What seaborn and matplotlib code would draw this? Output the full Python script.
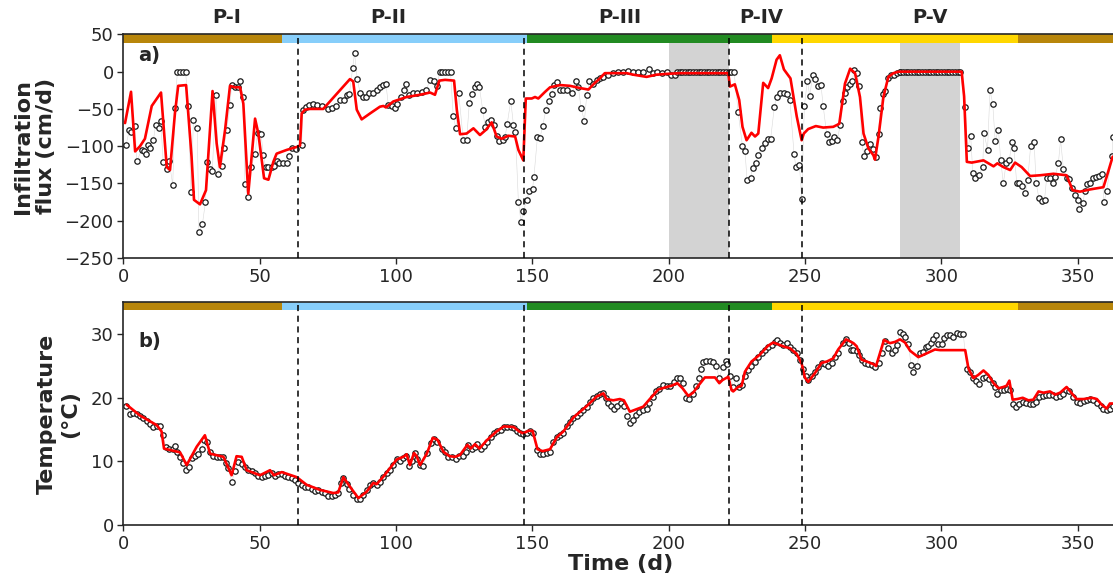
import numpy as np
import pandas as pd
import matplotlib
matplotlib.use("Agg")
import matplotlib.pyplot as plt
import seaborn as sns

# ---------------- data ----------------
# Panel a) observed infiltration flux (day, cm/d)
flux_obs_day = [1.0, 2.2, 2.8, 4.3, 4.9, 6.7, 7.5, 8.2, 9.1, 9.8, 11.0, 11.8, 13.1, 13.7, 14.6, 16.1, 16.8, 18.1, 18.9,
                19.8, 20.8, 21.8, 22.8, 23.8, 24.8, 25.7, 27.1, 27.7, 29.0, 30.1, 30.8, 31.8, 32.6, 34.0, 34.8, 36.0,
                36.9, 37.9, 39.1, 39.7, 40.9, 42.2, 42.8, 44.0, 44.6, 45.8, 46.8, 48.3, 49.2, 50.5, 51.3, 52.2, 53.2,
                54.4, 55.2, 56.2, 57.2, 58.7, 59.9, 60.9, 62.0, 63.3, 65.4, 65.8, 67.0, 68.2, 69.4, 70.9, 72.7, 75.2,
                76.6, 78.0, 79.5, 80.9, 82.1, 82.9, 84.1, 84.8, 85.8, 86.8, 87.8, 89.0, 90.2, 91.7, 92.9, 94.1, 95.4,
                96.3, 97.2, 98.4, 99.6, 100.5, 101.7, 103.0, 103.7, 104.9, 106.4, 107.8, 109.4, 111.0, 112.5, 114.0,
                115.2, 116.0, 117.0, 118.0, 119.0, 120.0, 121.0, 122.0, 123.0, 124.7, 125.9, 126.9, 127.9, 129.0,
                129.8, 130.6, 131.8, 132.7, 133.6, 134.9, 136.1, 136.9, 137.9, 139.1, 140.0, 140.8, 142.1, 143.1,
                143.8, 144.9, 145.9, 146.7, 148.0, 148.9, 150.1, 150.6, 151.9, 152.8, 153.8, 155.0, 156.0, 157.1,
                158.1, 159.0, 160.0, 161.4, 162.9, 164.7, 166.0, 166.9, 167.9, 169.1, 170.0, 170.9, 172.1, 173.6,
                174.8, 176.0, 177.9, 179.7, 181.5, 183.4, 185.2, 187.0, 188.9, 190.7, 192.9, 194.4, 195.8, 197.4,
                199.3, 200.7, 202.3, 203.2, 204, 205, 206, 207, 208, 209, 210, 211, 212, 213, 214, 215, 216, 217,
                218, 219, 220, 221, 222, 223, 224, 225.5, 227.1, 228.0, 228.8, 230.1, 230.8, 231.9, 232.9, 234.1,
                235.3, 236.3, 237.4, 238.8, 239.6, 240.8, 242.3, 243.5, 244.5, 246.0, 246.7, 248.0, 248.8, 249.8,
                250.9, 251.8, 252.8, 253.7, 254.9, 255.9, 256.7, 258.0, 258.7, 259.8, 260.8, 261.9, 262.9, 263.9,
                264.7, 265.6, 266.6, 267.4, 268.0, 269.0, 270.0, 270.8, 271.7, 272.7, 273.9, 275.1, 276.1, 277.0,
                277.6, 278.6, 279.4, 280.6, 281.5, 282.7, 283.7, 284.7, 285, 286, 287, 288, 289, 290, 291, 292, 293,
                294, 295, 296, 297, 298, 299, 300, 301, 302, 303, 304, 305, 306, 307, 308.8, 309.7, 310.8, 311.6,
                312.4, 313.9, 315.2, 315.7, 317.0, 317.9, 318.9, 319.8, 321.0, 321.8, 322.8, 323.8, 325.0, 325.9,
                326.7, 327.7, 328.7, 329.8, 330.9, 331.7, 332.8, 334.1, 334.8, 335.8, 336.9, 337.9, 338.7, 339.9,
                340.9, 341.8, 343.0, 343.8, 344.8, 346.0, 347.0, 348.0, 348.9, 350.0, 350.7, 351.9, 352.8, 353.6,
                354.6, 355.6, 356.8, 358.0, 359.0, 359.7, 360.7, 362.6, 363.0]
flux_obs_val = [-98, -78, -81, -73, -120, -105, -106, -110, -98, -103, -92, -72, -75, -66, -121, -130, -120, -152, -49,
                0, 0, 0, 0, -46, -162, -65, -75, -215, -204, -175, -121, -130, -133, -31, -137, -127,
                -102, -78, -45, -18, -20, -20, -13, -34, -151, -168, -128, -110, -82, -83, -112, -128, -128,
                -128, -127, -120, -122, -122, -123, -113, -103, -104, -98, -52, -48, -45, -43, -45, -46, -50,
                -49, -46, -38, -38, -31, -30, 5, 25, -10, -28, -34, -34, -29, -29, -25, -21, -18,
                -16, -45, -46, -49, -43, -34, -24, -16, -31, -29, -28, -27, -25, -11, -12,
                -19, 0, 0, 0, 0, 0, -60, -76, -29, -92, -92, -42, -30, -20,
                -16, -21, -51, -74, -67, -65, -72, -86, -93, -92, -88, -70, -39, -72,
                -81, -175, -202, -187, -172, -160, -157, -141, -87, -89, -73, -51, -40, -30,
                -18, -14, -25, -25, -24, -28, -12, -21, -49, -66, -31, -13, -16, -11,
                -9, -7, -4, -2, -1, -1, 1, -1, -1, 0, 3, -2, 0, -2,
                -1, -4, -4, -1, 0, 0, 0, 0, 0, 0, 0, 0, 0, 0, 0, 0, 0, 0,
                0, 0, 0, 0, 0, 0, 0, -54, -100, -106, -146, -142, -129, -123, -112, -102,
                -96, -90, -91, -47, -34, -28, -28, -30, -38, -110, -128, -125, -171, -46,
                -12, -33, -4, -10, -19, -18, -46, -84, -95, -93, -88, -92, -72, -40,
                -29, -20, -16, -12, 2, -2, -19, -95, -113, -107, -97, -104, -114, -83,
                -49, -30, -26, -8, -4, -4, -2, -1, 0, 0, 0, 0, 0, 0, 0, 0, 0,
                0, 0, 0, 0, 0, 0, 0, 0, 0, 0, 0, 0, 0, 0, -48, -103, -86, -136,
                -143, -138, -128, -82, -105, -25, -43, -93, -78, -118, -150, -123, -118, -95,
                -103, -150, -150, -153, -163, -146, -100, -95, -149, -169, -173, -172, -142, -142,
                -150, -141, -122, -91, -130, -142, -144, -156, -166, -172, -184, -176, -160, -151,
                -149, -142, -141, -140, -137, -175, -160, -113, -88]

# Panel a) simulated infiltration flux
flux_sim_day = [0.6, 2.8, 4.3, 6.1, 7.9, 10.4, 13.8, 15.9, 17.1, 18.9, 20.1, 23.0, 25.0, 25.9, 28.1, 30.3, 32.7, 34.2,
                35.4, 37.3, 39.1, 40.9, 42.8, 44.0, 45.8, 48.3, 49.5, 51.6, 53.2, 55.0, 56.2, 59.9, 63.6, 64.8, 65.4,
                66.6, 68.5, 73.3, 83.1, 84.3, 85.6, 87.4, 90.5, 94.1, 95.4, 96.3, 99.0, 103.9, 108.8, 112.5, 114.3,
                115.9, 118.0, 121.3, 122.3, 123.5, 125.9, 128.4, 130.8, 133.0, 135.1, 136.9, 138.8, 141.2, 143.7,
                144.9, 146.7, 147.6, 149.8, 151.0, 152.2, 154.7, 156.5, 160.2, 163.8, 167.5, 170.6, 172.4, 174.8,
                176.6, 179.7, 184.6, 187.0, 191.9, 195.6, 199.3, 204.1, 221.9, 222.5, 224.3, 225.9, 227.1, 228.6,
                230.4, 231.7, 232.9, 234.7, 236.5, 237.8, 239.6, 240.8, 242.3, 244.7, 247.0, 248.8, 249.6, 251.2,
                254.0, 256.7, 260.4, 262.6, 264.7, 266.6, 268.4, 270.2, 271.5, 273.3, 275.1, 275.7, 277.0, 278.8,
                280.6, 282.5, 284.3, 307.5, 308.4, 309.4, 311.2, 315.5, 319.2, 320.6, 322.8, 325.3, 327.1, 329.5,
                332.6, 336.3, 341.2, 346.0, 348.2, 350.9, 354.6, 359.5, 360.7, 362.9]
flux_sim_val = [-69, -27, -107, -100, -90, -46, -28, -128, -132, -56, -19, -18, -114, -172, -178, -159, -26, -96,
                -128, -78, -19, -21, -21, -43, -164, -63, -83, -143, -145, -121, -110, -105, -101, -99, -56,
                -51, -50, -50, -10, -13, -51, -64, -56, -47, -46, -48, -40, -34, -31, -28, -31,
                -12, -11, -12, -51, -84, -83, -76, -85, -78, -68, -87, -90, -86, -87,
                -105, -119, -36, -36, -34, -36, -27, -21, -18, -19, -22, -24, -17, -9,
                -2, -2, -2, -4, -7, -4, -3, -2, -2, -20, -17, -38, -74, -92,
                -82, -87, -83, -15, -22, -9, 16, 22, 3, -9, -60, -92, -83, -77,
                -73, -75, -74, -70, -16, 4, -2, -34, -83, -103, -112, -118, -87, -34,
                -7, -2, 0, 0, -33, -121, -122, -119, -127, -123, -128, -132, -122, -128,
                -140, -139, -137, -139, -159, -161, -158, -155, -141, -114]

# Panel b) observed temperature (day, degC)
temp_obs_day = [1.0, 2.4, 3.6, 4.9, 6.1, 7.3, 8.5, 9.8, 11.0, 12.2, 13.4, 14.4, 15.6, 16.9, 18.1, 18.9, 19.8, 20.8,
                22.0, 22.8, 24.1, 25.0, 26.3, 27.5, 28.7, 29.6, 30.8, 31.8, 33.0, 34.2, 35.4, 36.7, 37.6, 38.5, 39.7,
                41.0, 42.2, 43.4, 44.6, 45.8, 47.1, 48.3, 49.5, 50.7, 51.9, 53.2, 54.4, 55.6, 56.8, 58.1, 59.3, 60.5,
                61.7, 62.9, 64.2, 65.4, 66.6, 67.8, 69.1, 70.3, 71.5, 72.7, 74.0, 75.2, 76.4, 77.6, 78.8, 79.7, 80.7,
                81.9, 82.9, 84.1, 85.6, 86.8, 88.0, 89.2, 90.5, 91.7, 92.9, 94.1, 95.4, 96.6, 97.8, 99.0, 100.3,
                101.5, 102.7, 103.7, 104.9, 106.0, 107.0, 107.8, 108.8, 110.0, 111.3, 112.7, 113.9, 115.2, 116.8,
                118.0, 119.2, 120.4, 122.0, 123.2, 124.5, 125.7, 126.5, 127.8, 129.0, 129.8, 131.1, 132.3, 133.5,
                134.7, 136.0, 137.2, 138.4, 139.6, 140.8, 142.1, 143.3, 144.5, 145.5, 146.7, 147.9, 149.2, 150.4,
                151.6, 152.8, 154.0, 155.3, 156.5, 157.7, 159.0, 160.2, 161.4, 162.6, 163.8, 165.1, 166.3, 167.5,
                168.7, 170.0, 171.2, 172.4, 173.6, 174.8, 176.0, 177.0, 177.9, 178.7, 179.9, 181.2, 182.4, 183.6,
                184.8, 185.8, 186.8, 188.0, 189.2, 190.7, 191.9, 192.9, 194.1, 195.3, 196.6, 197.8, 199.3, 200.5,
                202.0, 203.2, 204.1, 205.1, 206.3, 207.6, 208.8, 210.0, 211.0, 211.7, 212.7, 213.9, 215.2, 216.4,
                217.4, 218.6, 219.8, 221.0, 221.3, 222.7, 223.7, 224.9, 225.9, 227.1, 228.0, 229.2, 230.4, 231.7,
                232.9, 234.1, 235.3, 236.5, 237.8, 239.0, 239.9, 240.8, 242.0, 243.3, 244.5, 245.7, 247.0, 248.2,
                249.4, 250.4, 251.2, 252.5, 253.7, 254.9, 256.1, 257.3, 258.6, 259.8, 261.0, 262.2, 264.1, 265.1,
                266.0, 266.8, 267.8, 269.0, 270.0, 270.8, 272.1, 273.3, 274.5, 275.7, 277.0, 278.2, 279.4, 280.6,
                281.9, 283.1, 283.9, 284.7, 285.9, 286.7, 288.0, 288.9, 289.8, 291.0, 292.2, 293.5, 294.4, 295.3,
                296.2, 297.1, 298.1, 299.0, 300.2, 301.1, 302.0, 303.3, 304.5, 305.7, 306.9, 308.1, 309.4, 310.6,
                311.6, 312.8, 314.0, 315.2, 316.5, 317.7, 318.9, 319.8, 320.6, 321.8, 323.0, 324.3, 325.3, 326.2,
                327.5, 328.7, 329.9, 331.1, 332.4, 333.6, 334.8, 336.0, 337.2, 338.5, 339.7, 340.9, 342.1, 343.4,
                344.6, 345.8, 347.0, 348.3, 349.7, 350.9, 352.2, 353.4, 354.6, 355.8, 357.3, 358.5, 359.5, 360.7,
                361.9, 362.9]
temp_obs_val = [18.7, 17.5, 17.6, 17.5, 17.1, 16.8, 16.4, 15.9, 15.4, 15.6, 15.6, 14.1, 12.3, 11.9, 11.9, 12.4, 11.4, 10.7,
                9.7, 8.6, 9.1, 10.5, 10.8, 11.2, 12.0, 13.4, 13.1, 11.5, 10.8, 10.7, 10.7, 10.6, 9.7, 8.9, 6.8,
                8.4, 9.9, 9.6, 9.1, 8.6, 8.4, 8.1, 7.7, 7.6, 7.7, 7.8, 8.1, 7.7, 8.0, 8.0, 7.7, 7.5,
                7.3, 7.1, 6.6, 6.3, 6.0, 6.0, 5.6, 5.4, 5.5, 5.2, 5.0, 4.5, 4.5, 4.7, 5.0, 6.6, 7.3,
                6.5, 5.6, 4.7, 4.0, 4.0, 4.7, 5.5, 6.3, 6.6, 6.3, 6.8, 7.5, 8.1, 8.6, 9.4, 10.3,
                10.1, 10.5, 10.8, 9.2, 10.1, 11.3, 10.3, 9.4, 9.2, 11.3, 12.9, 13.5, 13.1, 12.0,
                11.5, 10.7, 10.6, 10.3, 10.8, 10.8, 11.5, 12.6, 12.0, 12.3, 12.7, 12.0, 12.4, 13.1,
                13.8, 14.4, 14.7, 15.0, 15.4, 15.4, 15.4, 15.2, 14.8, 14.4, 14.3, 14.5, 14.8, 14.5,
                11.8, 11.2, 11.2, 11.3, 11.5, 13.1, 13.9, 14.2, 14.5, 15.6, 16.2, 16.8, 17.1, 17.6,
                18.1, 18.6, 19.4, 19.9, 20.3, 20.6, 20.7, 19.9, 19.2, 18.7, 18.2, 18.7, 19.1, 18.7,
                17.1, 16.1, 16.5, 17.3, 17.7, 18.0, 18.3, 19.2, 20.2, 21.0, 21.4, 22.0, 21.8, 21.8,
                22.5, 23.1, 23.1, 22.3, 19.9, 19.8, 20.6, 21.9, 23.1, 24.6, 25.7, 25.8, 25.8, 25.7,
                25.0, 23.1, 24.8, 25.8, 25.3, 23.4, 21.7, 23.1, 21.7, 22.0, 23.4, 24.4, 25.0, 25.7,
                26.4, 27.0, 27.5, 28.0, 28.3, 28.8, 29.1, 28.7, 28.3, 28.6, 28.0, 27.5, 27.1, 26.0,
                24.6, 23.4, 22.8, 23.4, 24.1, 24.9, 25.4, 25.3, 25.0, 25.5, 26.4, 27.0, 28.7, 29.2,
                28.7, 27.6, 27.6, 27.4, 26.7, 25.9, 25.5, 25.3, 25.2, 24.8, 25.5, 27.0, 29.0, 27.8,
                27.1, 27.6, 28.3, 30.3, 30.1, 29.6, 28.5, 25.2, 24.0, 25.0, 27.1, 27.2, 28.0, 28.1,
                28.7, 29.2, 29.9, 28.5, 28.5, 29.4, 29.9, 29.9, 29.5, 30.2, 30.0, 30.0, 24.6, 24.0,
                23.1, 22.6, 22.2, 23.1, 23.3, 23.0, 22.3, 21.7, 20.6, 21.2, 21.3, 21.4, 21.2, 19.0,
                18.5, 19.0, 19.4, 19.2, 19.0, 19.0, 19.4, 20.2, 20.3, 20.5, 20.5, 20.5, 20.2, 20.3,
                20.6, 21.3, 21.0, 20.2, 19.4, 19.2, 19.5, 19.6, 19.8, 19.6, 19.2, 18.7, 18.2, 18.0,
                18.3, 18.7]

# Panel b) simulated temperature
temp_sim_day = [1.2, 6.1, 12.2, 14.0, 14.9, 20.8, 23.2, 26.9, 29.9, 31.8, 36.7, 39.7, 41.5, 43.4, 45.2, 50.1, 53.8,
                55.2, 58.1, 63.6, 67.2, 72.1, 77.0, 78.8, 80.7, 83.1, 86.2, 89.2, 91.7, 92.9, 95.4, 99.0, 100.3,
                102.7, 103.9, 105.1, 106.6, 107.6, 108.8, 111.3, 113.5, 115.2, 117.4, 119.6, 121.6, 123.5, 126.2,
                127.4, 129.0, 130.6, 133.3, 136.9, 139.6, 143.1, 145.2, 146.7, 148.5, 150.1, 151.9, 153.8, 156.5,
                159.0, 161.4, 165.1, 170.0, 173.6, 176.1, 177.2, 179.7, 182.1, 183.6, 185.8, 187.6, 190.7, 193.1,
                196.2, 199.3, 201.1, 203.2, 205.1, 207.2, 209.0, 210.9, 213.3, 217.0, 218.6, 219.8, 221.9, 223.1,
                223.7, 225.5, 226.8, 228.0, 230.4, 233.5, 236.5, 238.4, 240.8, 242.7, 244.5, 247.0, 248.8, 250.0,
                251.2, 253.7, 256.1, 258.0, 260.4, 262.2, 265.1, 267.8, 269.0, 270.0, 270.8, 272.7, 275.1, 276.1,
                277.6, 279.0, 281.2, 283.1, 284.9, 286.7, 288.6, 291.6, 294.7, 297.7, 299.6, 308.8, 310.0, 311.8,
                313.6, 315.5, 317.3, 319.2, 321.0, 322.8, 324.0, 325.0, 326.2, 327.9, 329.9, 332.0, 333.8, 335.7,
                337.5, 339.9, 341.8, 343.6, 346.0, 347.9, 349.7, 352.2, 355.2, 357.1, 358.9, 360.7, 361.9, 362.9]
temp_sim_val = [18.9, 17.2, 15.7, 14.7, 12.0, 11.4, 9.4, 12.3, 14.1, 11.2, 10.7, 7.8, 10.8, 10.7, 8.6, 7.8, 8.6,
                7.8, 8.3, 7.5, 6.3, 5.5, 5.0, 5.1, 7.5, 6.0, 4.2, 5.2, 6.6, 6.4, 7.6, 9.6, 10.3,
                10.7, 11.1, 9.4, 11.3, 10.8, 9.4, 11.2, 13.7, 13.4, 11.5, 10.8, 10.7, 11.0, 12.6,
                12.0, 12.7, 12.0, 13.3, 14.7, 15.5, 15.4, 14.7, 14.4, 14.8, 14.8, 11.9, 11.6, 11.9,
                13.8, 14.7, 16.9, 18.7, 20.2, 20.7, 19.8, 19.6, 19.8, 19.6, 17.8, 18.1, 18.6, 19.8,
                21.3, 21.7, 21.9, 22.3, 21.5, 20.3, 20.8, 21.9, 23.2, 23.2, 22.3, 22.8, 23.3, 21.2,
                21.0, 21.7, 21.9, 24.1, 25.7, 26.8, 28.2, 28.7, 28.3, 28.0, 27.8, 26.9, 25.4, 23.2,
                22.5, 23.9, 25.5, 25.7, 26.2, 27.6, 29.2, 28.6, 28.1, 26.9, 26.0, 25.7, 25.3, 25.0,
                27.1, 29.1, 28.6, 28.8, 29.2, 28.7, 27.4, 26.4, 27.0, 27.6, 27.5, 27.5, 24.6, 23.1,
                23.6, 24.3, 23.6, 22.3, 21.5, 21.7, 21.9, 22.7, 19.7, 19.8, 20.0, 19.6, 19.7, 21.0,
                20.8, 21.0, 20.5, 20.8, 21.7, 20.7, 19.8, 19.8, 20.0, 19.8, 18.9, 18.3, 19.1, 19.1]

# Periods, seasons and annotations
period_labels = ["P-I", "P-II", "P-III", "P-IV", "P-V"]
period_label_day = [38, 97, 182, 234, 296]
period_bounds = [64, 147, 222, 249]
season_edges = [0, 58, 148, 238, 328, 365]
season_colors = ["#B8860B", "#87CEFA", "#228B22", "#FFD700", "#B8860B"]
gap_spans = [(200, 222), (285, 307)]

# ---------------- plot ----------------
sns.set_style("ticks")
plt.rcParams["font.family"] = ["DejaVu Sans"]

W, H = 1113, 583
fig = plt.figure(figsize=(W / 100, H / 100), dpi=100)
left = 123.4 / W
width = 995.0 / W
ax1 = fig.add_axes([left, (H - 258.0) / H, width, 223.6 / H])
ax2 = fig.add_axes([left, (H - 524.8) / H, width, 222.3 / H])

def decorate(ax, band_lo, band_hi):
    for i in range(len(season_colors)):
        ax.fill_between([season_edges[i], season_edges[i + 1]], band_lo, band_hi,
                        color=season_colors[i], lw=0, zorder=1)
    for b in period_bounds:
        ax.axvline(b, color="black", ls=(0, (4, 3)), lw=1.1, zorder=5)
    ax.set_xlim(0, 365)
    ax.set_xticks([0, 50, 100, 150, 200, 250, 300, 350])
    ax.tick_params(axis="both", labelsize=13, direction="out", length=4, width=1,
                   color="#262626", labelcolor="#262626", pad=3)
    for s in ax.spines.values():
        s.set_color("#262626")
        s.set_linewidth(1.2)

mk = dict(s=15, facecolor="white", edgecolor="#1a1a1a", linewidth=0.9, zorder=3, legend=False)

# Panel a
for a, b in gap_spans:
    ax1.axvspan(a, b, color="#D3D3D3", lw=0, zorder=0)
ax1.plot(flux_obs_day, flux_obs_val, color="gray", lw=0.4, alpha=0.3, zorder=2)
sns.scatterplot(x=flux_obs_day, y=flux_obs_val, ax=ax1, **mk)
sns.lineplot(x=flux_sim_day, y=flux_sim_val, ax=ax1, color="red", lw=1.9,
             sort=False, estimator=None, zorder=4)
ax1.set_ylim(-250, 50)
ax1.set_yticks([-250, -200, -150, -100, -50, 0, 50])
decorate(ax1, 39, 50)
ax1.set_xlabel("")
ax1.set_ylabel("Infiltration\nflux (cm/d)", fontsize=16, fontweight="bold", labelpad=6)
ax1.text(0.015, 0.88, "a)", transform=ax1.transAxes, fontsize=14, fontweight="bold")
for lab, d in zip(period_labels, period_label_day):
    ax1.text(d, 1.035, lab, transform=ax1.get_xaxis_transform(), ha="center", va="bottom",
             fontsize=14, fontweight="bold", clip_on=False)

# Panel b
ax2.plot(temp_obs_day, temp_obs_val, color="gray", lw=0.4, alpha=0.3, zorder=2)
sns.scatterplot(x=temp_obs_day, y=temp_obs_val, ax=ax2, **mk)
sns.lineplot(x=temp_sim_day, y=temp_sim_val, ax=ax2, color="red", lw=1.9,
             sort=False, estimator=None, zorder=4)
ax2.set_ylim(0, 35)
ax2.set_yticks([0, 10, 20, 30])
decorate(ax2, 33.8, 35)
ax2.set_xlabel("Time (d)", fontsize=16, fontweight="bold", labelpad=1)
ax2.set_ylabel("Temperature\n(°C)", fontsize=16, fontweight="bold", labelpad=8)
ax2.text(0.015, 0.80, "b)", transform=ax2.transAxes, fontsize=14, fontweight="bold")

fig.savefig("out.png", dpi=100)
